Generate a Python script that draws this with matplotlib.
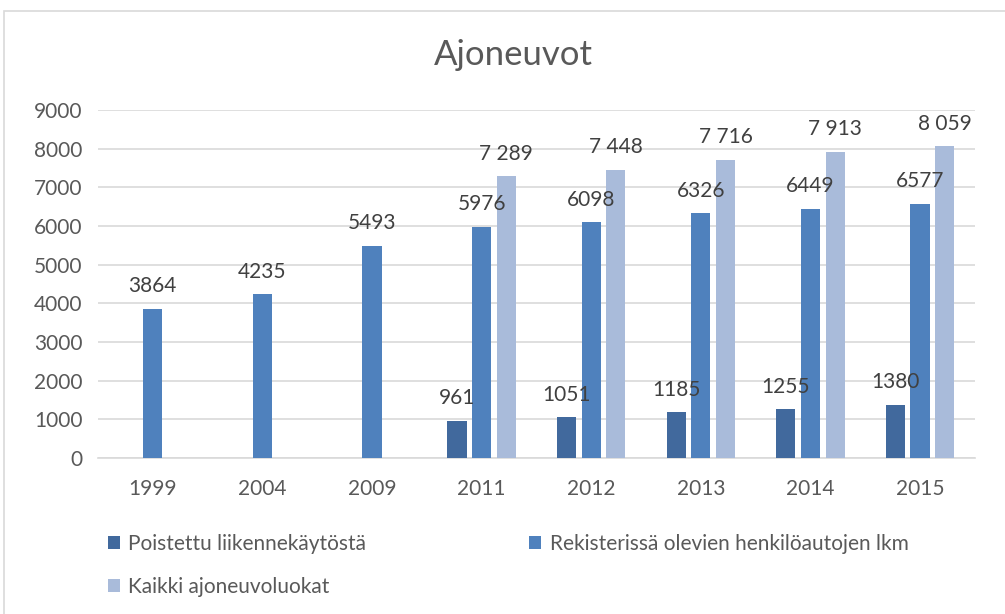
import numpy as np
import matplotlib.pyplot as plt
from matplotlib.patches import Rectangle

years = ["1999", "2004", "2009", "2011", "2012", "2013", "2014", "2015"]
poistettu = [np.nan, np.nan, np.nan, 961, 1051, 1185, 1255, 1380]
rekisterissa = [3864, 4235, 5493, 5976, 6098, 6326, 6449, 6577]
kaikki = [np.nan, np.nan, np.nan, 7289, 7448, 7716, 7913, 8059]

series_names = ["Poistettu liikennekäytöstä",
                "Rekisterissä olevien henkilöautojen lkm",
                "Kaikki ajoneuvoluokat"]
colors = ["#41699D", "#4F81BD", "#A9BBDA"]

plt.rcParams['font.family'] = ['Lato', 'DejaVu Sans']

fig = plt.figure(figsize=(10.05, 6.14), dpi=100)
fig.patches.append(Rectangle((4 / 1005, -0.1), 1.1, 1 - 11 / 614 + 0.1,
                             transform=fig.transFigure, fill=False,
                             edgecolor="#D9D9D9", lw=1.2))
ax = fig.add_axes([0.0975, 0.254, 0.8725, 0.567])

x = np.arange(len(years))
w = 0.175
step = 0.225

def fmt_plain(v):
    return f"{int(v)}"

def fmt_space(v):
    return f"{int(v):,}".replace(",", " ")

data = [poistettu, rekisterissa, kaikki]
fmts = [fmt_plain, fmt_plain, fmt_space]
handles = []
for i, (vals, col, name, f) in enumerate(zip(data, colors, series_names, fmts)):
    pos = x + (i - 1) * step
    bars = ax.bar(pos, vals, width=w, color=col, label=name, zorder=3)
    handles.append(bars)
    for xp, v in zip(pos, vals):
        if not np.isnan(v):
            ax.annotate(f(v), (xp, v), xytext=(0, 9), textcoords="offset points",
                        ha="center", va="bottom", fontsize=15, color="#404040",
                        zorder=6)

ax.set_xlim(-0.5, len(years) - 0.5)
ax.set_ylim(0, 9000)
ax.set_yticks(np.arange(0, 9001, 1000))
ax.set_xticks(x)
ax.set_xticklabels(years)
ax.tick_params(length=0, labelsize=15, colors="#595959")
ax.tick_params(axis="x", pad=15)
ax.tick_params(axis="y", pad=11)
ax.grid(axis="y", color="#D9D9D9", lw=1.2, zorder=0)
for s in ["top", "right", "left"]:
    ax.spines[s].set_visible(False)
ax.spines["bottom"].set_color("#D9D9D9")
ax.spines["bottom"].set_linewidth(1.2)

fig.text(0.511, 0.91, "Ajoneuvot", ha="center", va="center", fontsize=25,
         color="#595959")

# column-major fill: col 1 = Poistettu, Kaikki; col 2 = Rekisterissä
order = [0, 2, 1]
fig.legend([handles[k] for k in order], [series_names[k] for k in order],
           loc="upper left", bbox_to_anchor=(0.107, 0.13), ncol=2,
           frameon=False, fontsize=15, handlelength=0.6, handleheight=0.6,
           handletextpad=0.4, columnspacing=7.8, labelspacing=1.1,
           labelcolor="#595959", borderaxespad=0, borderpad=0)

fig.savefig("out.png", dpi=100)
